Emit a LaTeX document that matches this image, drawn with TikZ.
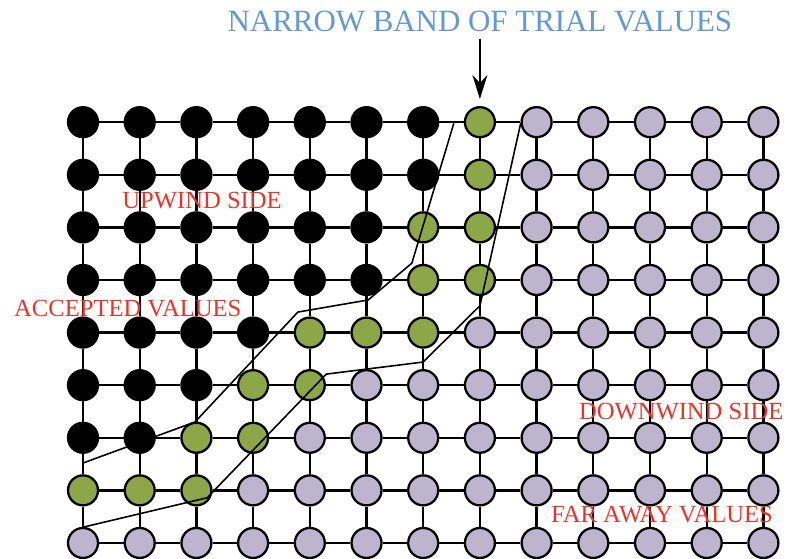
\documentclass[tikz,border=0pt]{standalone}
\usepackage{fontspec}
\setmainfont{Liberation Serif}
\usetikzlibrary{arrows.meta,calc}
\definecolor{trialgreen}{RGB}{140,166,72}
\definecolor{farlilac}{RGB}{188,181,205}
\definecolor{lblred}{RGB}{232,52,40}
\definecolor{ttlblue}{RGB}{98,152,212}
\tikzset{dot/.style={circle,draw=black,line width=1.3pt,minimum size=0.6cm,inner sep=0pt},
  kind0/.style={dot,fill=black},
  kind1/.style={dot,fill=trialgreen},
  kind2/.style={dot,fill=farlilac},
  gridln/.style={line width=1.3pt},
  band/.style={line width=0.9pt},
  lbl/.style={text=lblred,font=\fontsize{14}{16}\selectfont,anchor=base},
  arr/.style={-{Stealth[length=4.8mm,width=3mm]},line width=0.9pt,shorten >=0.14cm}}

\begin{document}
\begin{tikzpicture}[x=1.134cm,y=1.052cm]
\useasboundingbox (-1.464,-0.304) rectangle (12.434,10.323);
\foreach \r/\b/\g in {0/7/8,1/7/8,2/6/8,3/6/8,4/4/7,5/3/5,6/2/4,7/0/3,8/0/0}{
  \foreach \c in {0,...,12}{
    \pgfmathtruncatemacro\k{(\c>=\b)+(\c>=\g)}
    \node[kind\k] (n-\c-\r) at (\c,8-\r) {};
  }
}
\foreach \r in {0,...,8}{
  \foreach \c in {0,...,11}{
    \pgfmathtruncatemacro\cc{\c+1}
    \draw[gridln] (n-\c-\r) -- (n-\cc-\r);
  }
}
\foreach \c in {0,...,12}{
  \foreach \r in {0,...,7}{
    \pgfmathtruncatemacro\rr{\r+1}
    \draw[gridln] (n-\c-\r) -- (n-\c-\rr);
  }
}
\draw[band] (0,1.52) -- (1.975,2.30) -- (3.79,4.39) -- (5.03,4.62) -- (5.80,5.32) -- (6.54,7.98);
\draw[band] (0,0.30) -- (2.19,0.86) -- (4.29,3.21) -- (6.0,3.44) -- (7.0,4.51) -- (7.72,7.98);
\node[text=ttlblue,font=\fontsize{17.6}{20}\selectfont,anchor=base] (title) at (7,9.715) {NARROW BAND OF TRIAL VALUES};
\draw[arr] (title.south -| n-7-0) -- (n-7-0.north);
\node[lbl] (upwind) at (2.10,6.35) {UPWIND SIDE};
\node[lbl] (accepted) at (0.79,4.30) {ACCEPTED VALUES};
\node[lbl] (downwind) at (10.55,2.34) {DOWNWIND SIDE};
\node[lbl] (faraway) at (10.21,0.38) {FAR AWAY VALUES};
\end{tikzpicture}
\end{document}
